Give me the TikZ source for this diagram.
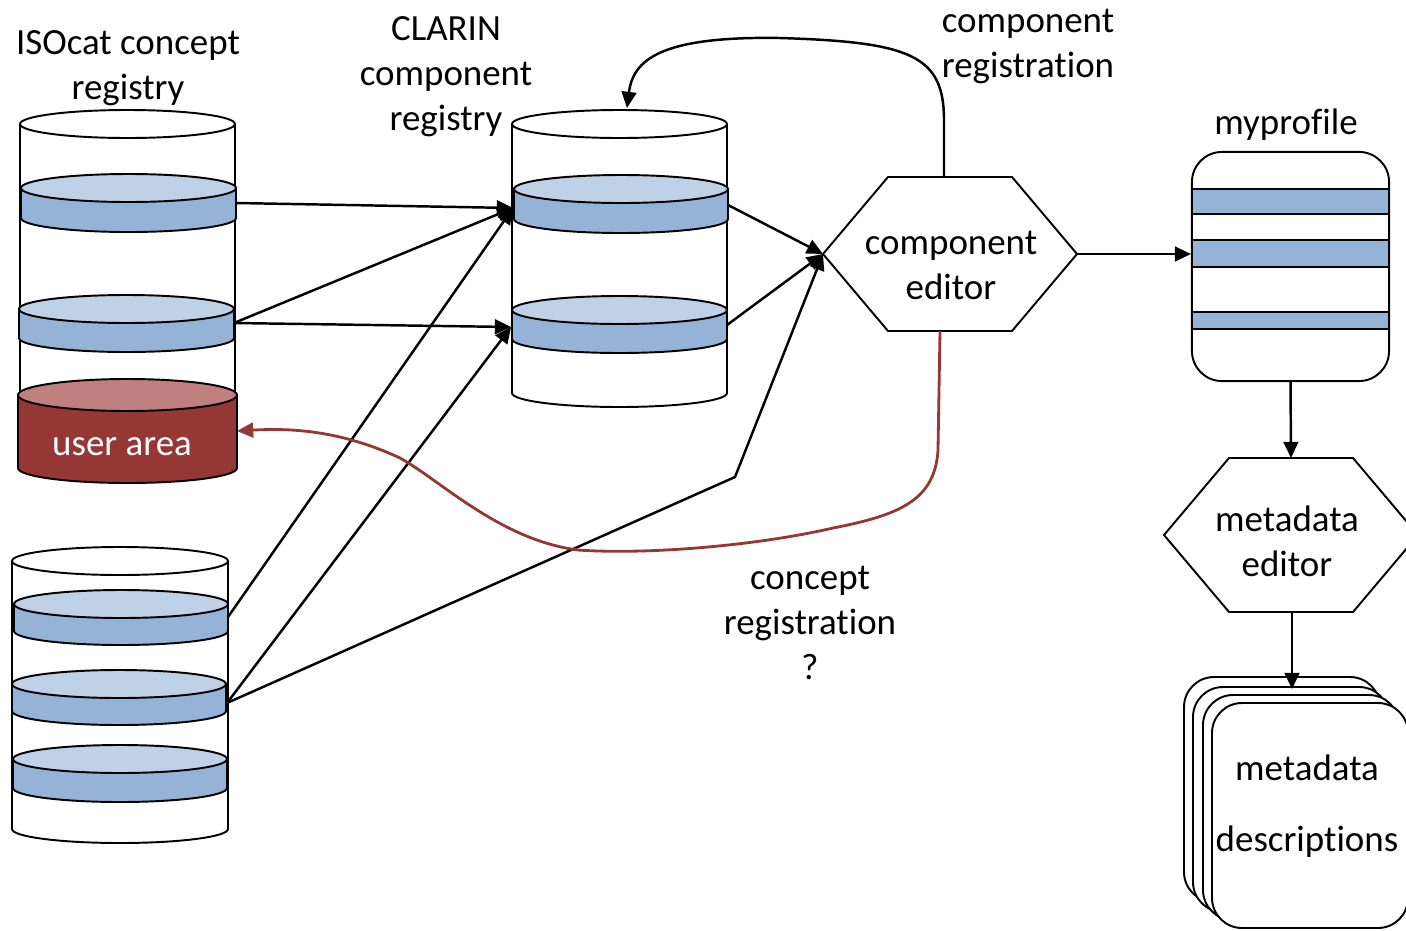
\documentclass[tikz,border=0pt]{standalone}
\usepackage{fontspec}
\setmainfont{Carlito}[Ligatures=NoCommon]
\usetikzlibrary{arrows.meta}
\definecolor{disktop}{HTML}{BFD1E7}
\definecolor{diskband}{HTML}{95B3D7}
\definecolor{usertop}{HTML}{C0807F}
\definecolor{userred}{HTML}{953735}
\begin{document}
\begin{tikzpicture}[x=0.01cm, y=-0.01cm,
    every node/.style={font=\fontsize{10.5}{12.8}\selectfont, align=center, inner sep=0pt},
    outline/.style={line width=0.55pt},
    link/.style={line width=0.7pt, -{Triangle[length=4.6pt, width=4.2pt]}}]
  \useasboundingbox (0,0) rectangle (1406,930);

  % Draw cylinders
  \draw[outline, fill=white] (20,124) -- (20,395) -- (235,395) -- (235,124);
  \draw[outline, fill=white] (127.5,124) ellipse [x radius=107.5, y radius=14];
  \draw[outline, fill=white] (512,124) -- (512,393) arc[start angle=180, end angle=0, x radius=107.5, y radius=14] -- (727,124);
  \draw[outline, fill=white] (619.5,124) ellipse [x radius=107.5, y radius=14];
  \draw[outline, fill=white] (12,561) -- (12,829) arc[start angle=180, end angle=0, x radius=108, y radius=14] -- (228,561);
  \draw[outline, fill=white] (120,561) ellipse [x radius=108, y radius=14];

  % Draw user area
  \draw[outline, fill=userred] (18,395) -- (18,468) arc[start angle=180, end angle=0, x radius=109.5, y radius=15] -- (237,395) -- cycle;
  \draw[outline, fill=usertop] (127.5,395) ellipse [x radius=109.5, y radius=16];
  \node[text=white] (user) at (122,447) {user area};

  % Draw disks
  \foreach \xa/\xb/\ya/\yb in {21/236/188/218, 19/234/309/338, 514/728/189/219, 512/727/310/339,
      14/228/604/631, 12/226/684/711, 13/227/759/788} {
    \pgfmathsetmacro\rx{(\xb-\xa)/2}
    \draw[outline, fill=diskband] (\xa,\ya) -- (\xa,\yb) arc[start angle=180, end angle=0, x radius=\rx, y radius=14] -- (\xb,\ya) -- cycle;
    \draw[outline, fill=disktop] ({(\xa+\xb)/2},\ya) ellipse [x radius=\rx, y radius=14];
  }

  % Draw hexagons
  \draw[outline] (823,254) -- (888,177) -- (1012,177) -- (1077,254) -- (1012,331) -- (888,331) -- cycle;
  \node (ce) at (951,265) {component\\editor};
  \draw[outline] (1164,535) -- (1229,458) -- (1353,458) -- (1418,535) -- (1353,612) -- (1229,612) -- cycle;
  \node (me) at (1287,541) {metadata\\editor};

  % Draw profile
  \node[draw, outline, rounded corners=0.3cm, minimum width=1.97cm, minimum height=2.29cm] (mp) at (1290.5,266.5) {};
  \foreach \ya/\yb in {189/214, 240/267, 312/329}
    \draw[outline, fill=diskband] (1192,\ya) rectangle (1389,\yb);
  \node (mplabel) at (1286,125) {myprofile};

  % Draw descriptions
  \foreach \dx/\dy in {0/0, 9/10, 19/18, 28/26}
    \draw[outline, fill=white, rounded corners=0.3cm] (1184+\dx,677+\dy) rectangle ++(196,225);
  \node (md) at (1307,806) {metadata\\[7.4pt]descriptions};

  % Labels
  \node (isolabel) at (128,68) {ISOcat concept\\registry};
  \node (clarinlabel) at (446,77) {CLARIN\\component\\registry};
  \node (reglabel) at (1028,46) {component\\registration};
  \node (conceptlabel) at (810,623) {concept\\registration\\?};

  % Anchor points
  \coordinate (iso1) at (236,203);
  \coordinate (iso2) at (234,323);
  \coordinate (local1) at (228,617);
  \coordinate (local2) at (227,703);
  \coordinate (clarin1in) at (513,208);
  \coordinate (clarin2in) at (511,327);
  \coordinate (clarin1out) at (728,205);
  \coordinate (clarin2out) at (727,325);
  \coordinate (clarintop) at (627,108);
  \coordinate (bend) at (735,477);
  \coordinate (ce-w) at (823,254);
  \coordinate (ce-e) at (1077,254);
  \coordinate (ce-n) at (944,177);
  \coordinate (ce-s) at (940,331);
  \coordinate (me-n) at (1291,458);
  \coordinate (me-s) at (1292,612);
  \coordinate (mdtop) at (1292,689);
  \coordinate (usr-e) at (237,431);

  % Draw connectors
  \draw[link] (iso1) -- (clarin1in);
  \draw[link] (iso2) -- (clarin1in);
  \draw[link] (iso2) -- (clarin2in);
  \draw[link] (local1) -- (clarin1in);
  \draw[link] (local2) -- (clarin2in);
  \draw[link] (local2) -- (bend) -- (ce-w);
  \draw[link] (clarin1out) -- (ce-w);
  \draw[link] (clarin2out) -- (ce-w);
  \draw[link] (ce-e) -- (mp.west |- ce-e);
  \draw[link] (mp.south) -- (me-n);
  \draw[link] (me-s) -- (mdtop);
  \draw[link] (ce-n) -- (944,120) .. controls (944,55) and (910,42) .. (780,38)
    .. controls (660,36) and (633,60) .. (clarintop);
  \draw[link, userred, line width=0.8pt] (ce-s) -- (938,450) .. controls (935,500) and (900,515) .. (833,528)
    .. controls (760,545) and (650,555) .. (578,550) .. controls (500,540) and (440,480) .. (400,458)
    .. controls (340,430) and (290,428) .. (usr-e);
\end{tikzpicture}
\end{document}
